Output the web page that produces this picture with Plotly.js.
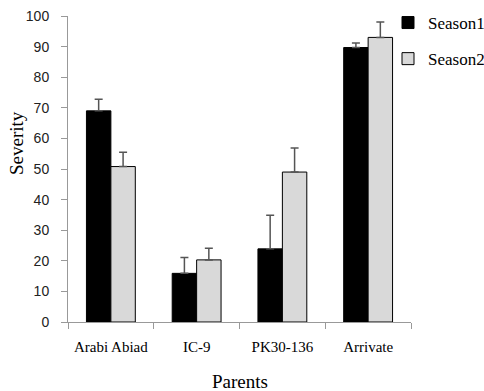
<!DOCTYPE html>
<html><head><meta charset="utf-8">
<script src="https://cdn.plot.ly/plotly-3.0.1.min.js"></script>
<style>body{margin:0;background:#fff}#c{width:484px;height:391px}</style>
</head><body><div id="c"></div>
<script>
const categories = ["Arabi Abiad", "IC-9", "PK30-136", "Arrivate"];
const season1 = [69, 15.9, 23.9, 89.7];
const season1Err = [3.8, 5.2, 11, 1.5];
const season2 = [50.8, 20.3, 49, 93];
const season2Err = [4.7, 3.8, 7.9, 5];
const xTitle = "Parents";
const yTitle = "Severity";

const serif = "Liberation Serif, Times New Roman, serif";
const sans = "Liberation Sans, Arial, sans-serif";

const traces = [
  {type: "bar", name: "Season1", x: categories, y: season1, legendgroup: "a",
   marker: {color: "#000000", line: {color: "#000000", width: 1}},
   error_y: {type: "data", array: season1Err, arrayminus: season1.map(() => 0), symmetric: false,
             color: "#555555", thickness: 1.5, width: 4}},
  {type: "bar", name: "Season2", x: categories, y: season2, legendgroup: "b",
   marker: {color: "#d9d9d9", line: {color: "#000000", width: 1}},
   error_y: {type: "data", array: season2Err, arrayminus: season2.map(() => 0), symmetric: false,
             color: "#555555", thickness: 1.5, width: 4}}
];

const layout = {
  width: 484, height: 391,
  margin: {l: 68, r: 73, t: 16, b: 69, autoexpand: false},
  paper_bgcolor: "#fff", plot_bgcolor: "#fff",
  barmode: "group", bargap: 0.43, bargroupgap: 0,
  showlegend: true,
  legend: {x: (388 - 68) / 343, xanchor: "left", y: 1.036, yanchor: "top",
           bgcolor: "rgba(0,0,0,0)",
           font: {family: serif, size: 17, color: "#000"},
           traceorder: "grouped", tracegroupgap: 11, itemwidth: 30},
  xaxis: {type: "category", showgrid: false, zeroline: false,
          showline: true, linecolor: "#999", linewidth: 1,
          ticks: "outside", tickson: "boundaries", ticklen: 6, tickcolor: "#999",
          ticklabelstandoff: 11,
          tickfont: {family: serif, size: 15, color: "#000"}},
  yaxis: {range: [0, 100], dtick: 10, showgrid: false, zeroline: false,
          showline: true, linecolor: "#999", linewidth: 1,
          ticks: "outside", ticklen: 6, tickcolor: "#999",
          ticklabelstandoff: 9,
          tickfont: {family: sans, size: 14, color: "#222"}},
  annotations: [
    {text: xTitle, xref: "paper", yref: "paper", x: 0.5, y: (322 - 381) / 306,
     xanchor: "center", yanchor: "middle", showarrow: false,
     font: {family: serif, size: 19, color: "#000"}},
    {text: yTitle, xref: "paper", yref: "paper", x: (16 - 68) / 343, y: (322 - 143) / 306,
     xanchor: "center", yanchor: "middle", showarrow: false, textangle: -90,
     font: {family: serif, size: 19, color: "#000"}}
  ]
};

Plotly.newPlot("c", traces, layout, {displayModeBar: false, staticPlot: true});
</script></body></html>
